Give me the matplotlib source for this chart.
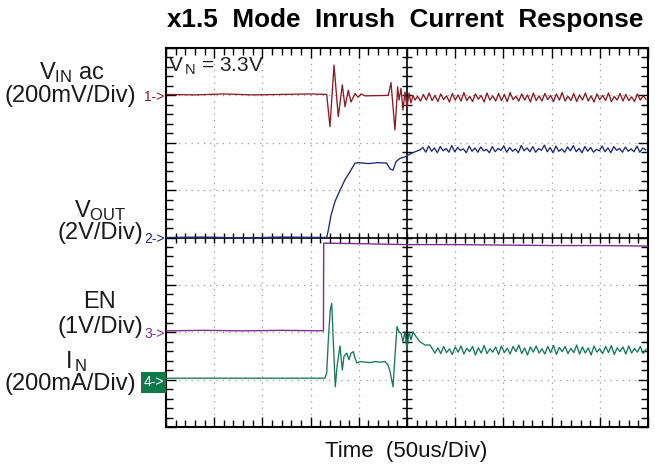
import numpy as np
import matplotlib
matplotlib.use("Agg")
import matplotlib.pyplot as plt
from matplotlib.patches import Rectangle

plt.rcParams['font.family'] = ['Liberation Sans', 'DejaVu Sans']
plt.rcParams['mathtext.fontset'] = 'custom'
plt.rcParams['mathtext.rm'] = 'Liberation Sans'
plt.rcParams['mathtext.it'] = 'Liberation Sans'

# ---------------- data (time in us, amplitude in divisions) ----------------
title = "x1.5  Mode  Inrush  Current  Response"
x_label = "Time  (50us/Div)"
vin_note = r"V$_{\,\rm N}$ = 3.3V"

# VIN ac (ch1) transient
vin_t = [0, 30, 60, 90, 120, 150, 166.7, 170.1, 174.3, 178.7, 182.9, 185.7, 189.1, 191.9,
         196.1, 199.2, 202.3, 206.4, 230.6, 233.4, 237.5, 240.3, 241.7, 243.8, 245.8,
         247.9, 250.0, 252.1, 254.1, 256.2, 258.3]
vin_v = [3.02, 3.01, 3.03, 3.01, 3.02, 3.03, 3.02, 2.34, 3.64, 2.55, 3.22, 2.76, 3.11, 2.86,
         3.04, 2.96, 3.03, 2.99, 3.00, 3.27, 2.27, 3.18, 2.90, 3.15, 2.69,
         3.07, 2.74, 3.05, 2.84, 3.00, 2.90]
# VIN ripple samples (3 us apart, starting at 261 us)
vin_ripple_t0 = 261.0
vin_ripple = [2.98, 2.88, 3.02, 2.90, 3.05, 2.89, 3.00, 2.87, 3.03, 2.91,
              2.99, 2.86, 3.04, 2.90, 3.01, 2.88, 3.06, 2.89, 2.98, 2.87,
              3.03, 2.92, 3.00, 2.86, 3.05, 2.90, 2.99, 2.88, 3.04, 2.89,
              3.02, 2.87, 3.06, 2.91, 2.98, 2.88, 3.03, 2.90, 3.01, 2.86,
              3.05, 2.89, 2.99, 2.88, 3.04, 2.91, 3.00, 2.87, 3.03, 2.90,
              3.06, 2.88, 2.98, 2.89, 3.04, 2.87, 3.01, 2.90, 3.05, 2.88,
              2.99, 2.86, 3.03, 2.91, 3.00, 2.89, 3.05, 2.87, 2.98, 2.90,
              3.04, 2.88, 3.02, 2.89, 2.97, 2.87, 3.03, 2.90, 2.99, 2.92]

# VOUT (ch2)
vout_t = [0, 40, 80, 120, 166.7, 168.4, 171.2, 175.3, 180.5, 185.7, 190.9, 196.1, 200,
          210, 220, 228.9, 232.4, 235.5, 238.6, 242.7, 247.9, 253.1, 258.3, 263.5]
vout_v = [0.0, 0.01, -0.01, 0.01, 0.0, 0.16, 0.47, 0.76, 1.00, 1.22, 1.39, 1.57, 1.58,
          1.56, 1.58, 1.57, 1.45, 1.42, 1.60, 1.67, 1.70, 1.76, 1.81, 1.85]
vout_ripple_t0 = 266.5
vout_ripple = [1.90, 1.80, 1.93, 1.82, 1.89, 1.79, 1.92, 1.83, 1.88, 1.80,
               1.94, 1.81, 1.90, 1.84, 1.87, 1.79, 1.93, 1.82, 1.89, 1.80,
               1.91, 1.83, 1.86, 1.79, 1.92, 1.81, 1.88, 1.84, 1.93, 1.80,
               1.90, 1.82, 1.87, 1.79, 1.94, 1.83, 1.89, 1.81, 1.92, 1.80,
               1.88, 1.84, 1.95, 1.81, 1.90, 1.79, 1.93, 1.82, 1.87, 1.80,
               1.91, 1.83, 1.94, 1.81, 1.88, 1.79, 1.92, 1.82, 1.90, 1.80,
               1.86, 1.83, 1.93, 1.81, 1.89, 1.79, 1.92, 1.84, 1.88, 1.80,
               1.91, 1.82, 1.87, 1.81, 1.93, 1.80, 1.89, 1.85]

# EN (ch3)
en_t = [0, 40, 80, 120, 163.3, 163.6, 200, 250, 300, 350, 400, 450, 500]
en_v = [-1.97, -1.96, -1.97, -1.96, -1.97, -0.12, -0.13, -0.15, -0.15, -0.16, -0.17, -0.17, -0.18]

# IIN (ch4)
iin_t = [0, 164.9, 166.7, 168.4, 170.4, 171.9, 173.5, 175.6, 177.4, 180.5,
         182.9, 184.6, 187.4, 189.8, 191.9, 194.3, 196.1, 198.1, 201.2, 206.4,
         211.6, 216.8, 222.0, 227.2, 230.3, 232.4, 235.5, 237.5, 239.6, 241.7,
         243.8, 245.8, 247.9, 250.0, 252.1, 254.1, 256.2, 259.3, 263.5, 268.7,
         273.9, 279.0]
iin_v = [-2.97, -2.97, -2.86, -2.16, -1.53, -1.39, -2.16, -3.15, -2.73, -2.29,
         -2.80, -2.51, -2.44, -2.58, -2.44, -2.41, -2.55, -2.65, -2.62, -2.63,
         -2.64, -2.62, -2.63, -2.62, -2.69, -2.83, -3.15, -2.51, -1.88, -1.99,
         -2.02, -2.20, -1.99, -2.37, -1.99, -2.16, -1.99, -2.09, -2.20, -2.27,
         -2.27, -2.44]
iin_ripple_t0 = 282.0
iin_ripple = [-2.33, -2.45, -2.30, -2.43, -2.35, -2.47, -2.31, -2.42, -2.29, -2.46,
              -2.34, -2.41, -2.30, -2.48, -2.33, -2.44, -2.28, -2.45, -2.35, -2.42,
              -2.31, -2.47, -2.29, -2.43, -2.34, -2.46, -2.30, -2.41, -2.27, -2.45,
              -2.33, -2.48, -2.31, -2.42, -2.29, -2.44, -2.35, -2.46, -2.30, -2.43,
              -2.28, -2.47, -2.32, -2.41, -2.30, -2.45, -2.34, -2.43, -2.27, -2.46,
              -2.31, -2.44, -2.33, -2.48, -2.29, -2.42, -2.35, -2.45, -2.30, -2.43,
              -2.28, -2.47, -2.33, -2.41, -2.31, -2.46, -2.29, -2.44, -2.34, -2.42,
              -2.30, -2.45, -2.36]
ripple_dt = 3.0

channel_labels = [r"V$_{\rm IN}$ ac", "(200mV/Div)", r"V$_{\rm OUT}$", "(2V/Div)",
                  "EN", "(1V/Div)", r"I$_{\,\rm N}$", "(200mA/Div)"]
marker_labels = ["1->", "2->", "3->", "4->"]
marker_levels = [3, 0, -2, -3]

# ---------------- styling ----------------
c_vin = '#8a1c26'
c_vout = '#1d2a78'
c_en = '#7e2f8e'
c_iin = '#17785a'
c_box = '#10794a'

W, H = 655, 468
fig = plt.figure(figsize=(W / 100, H / 100), dpi=100)
L, R, T, B = 166, 648, 48, 427
ax = fig.add_axes([L / W, 1 - B / H, (R - L) / W, (B - T) / H])
ax.set_xlim(0, 500)
ax.set_ylim(-4, 4)


def full(t, v, t0, rip):
    rt = t0 + ripple_dt * np.arange(len(rip))
    return np.concatenate([np.asarray(t, float), rt]), np.concatenate([np.asarray(v, float), rip])


# grid
for i in range(1, 10):
    if i != 5:
        ax.axvline(i * 50, color='#9a9a9a', lw=0.9, ls=(0, (1, 4)), zorder=1)
for j in range(-3, 4):
    if j != 0:
        ax.axhline(j, color='#9a9a9a', lw=0.9, ls=(0, (1, 4)), zorder=1)
ax.axvline(250, color='black', lw=1.2, zorder=2)
ax.axhline(0, color='black', lw=1.2, zorder=2)
xm = np.arange(10, 500, 10)
ym = np.arange(-3.8, 4.0, 0.2)
ax.plot(xm, np.zeros_like(xm), ls='none', marker='|', ms=7, mew=1.0, color='black', zorder=2)
ax.plot(np.full_like(ym, 250), ym, ls='none', marker='_', ms=7, mew=1.0, color='black', zorder=2)

ax.set_xticks(np.arange(0, 501, 50))
ax.set_xticks(np.arange(0, 501, 10), minor=True)
ax.set_yticks(np.arange(-4, 5, 1))
ax.set_yticks(np.arange(-4, 4.01, 0.2), minor=True)
ax.tick_params(which='both', direction='in', top=True, right=True, labelbottom=False, labelleft=False)
ax.tick_params(which='major', length=7, width=1.0)
ax.tick_params(which='minor', length=5, width=1.0)
for s in ax.spines.values():
    s.set_linewidth(1.5)

# traces
t, v = full(vin_t, vin_v, vin_ripple_t0, vin_ripple)
ax.plot(t, v, color=c_vin, lw=0.95, zorder=3)
t, v = full(vout_t, vout_v, vout_ripple_t0, vout_ripple)
ax.plot(t, v, color=c_vout, lw=0.95, zorder=3)
ax.plot(en_t, en_v, color=c_en, lw=1.0, zorder=3)
t, v = full(iin_t, iin_v, iin_ripple_t0, iin_ripple)
ax.plot(t, v, color=c_iin, lw=0.95, zorder=3)

ax.text(2, 3.62, vin_note, fontsize=15, color='#222222', va='center', ha='left', zorder=4)


def fx(px):
    return px / W


def fy(py):
    return 1 - py / H


fig.text(fx(405), fy(20), title, fontsize=18.8, fontweight='bold', ha='center', va='center')
fig.text(fx(406), fy(452), x_label, fontsize=16, ha='center', va='center', color='#111111')

label_pos = [(72, 73), (70, 96), (100, 211), (100, 233), (99, 302), (100, 327), (76, 362), (70, 384)]
for s, (px, py) in zip(channel_labels, label_pos):
    fig.text(fx(px), fy(py), s, fontsize=17, ha='center', va='center', color='#1a1a1a')

# channel-4 marker badge
fig.patches.append(Rectangle((fx(141), fy(393)), 25 / W, 21 / H, transform=fig.transFigure,
                             facecolor=c_box, edgecolor='none', zorder=5))

marker_cols = [c_vin, c_vout, c_en, 'white']
for lab, lev, col in zip(marker_labels, marker_levels, marker_cols):
    if lab.startswith('4'):
        fig.text(fx(153.5), fy(382.5), lab, fontsize=10, color='white', ha='center', va='center', zorder=6)
    else:
        ax.text(-1.5, lev - 0.04, lab, fontsize=10, color=col, ha='right', va='center',
                clip_on=False)

fig.savefig('out.png', dpi=100)
